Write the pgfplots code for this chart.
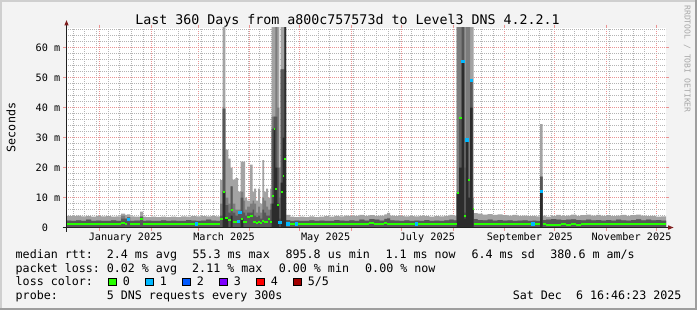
\documentclass[border=0pt]{standalone}
\usepackage{fontspec}
\setmainfont{DejaVu Sans Mono}
\setmonofont{DejaVu Sans Mono}
\usepackage{pgfplots}
\usepackage{pgfplotstable}
\pgfplotsset{compat=1.18}

\definecolor{bgcol}{HTML}{F3F3F3}
\definecolor{shadeA}{HTML}{CFCFCF}
\definecolor{shadeB}{HTML}{9E9E9E}
\definecolor{mingrid}{HTML}{B4B4B4}
\definecolor{majgrid}{HTML}{EA9494}
\definecolor{axiscol}{HTML}{1F1F1F}
\definecolor{arrowcol}{HTML}{801F1F}
\definecolor{smokeA}{HTML}{A3A3A3}
\definecolor{smokeB}{HTML}{7C7C7C}
\definecolor{smokeC}{HTML}{575757}
\definecolor{smokeD}{HTML}{2C2C2C}
\definecolor{loss0}{HTML}{26FF00}
\definecolor{loss1}{HTML}{00B8FF}
\definecolor{loss2}{HTML}{0059FF}
\definecolor{loss3}{HTML}{7E00FF}
\definecolor{loss4}{HTML}{FF0000}
\definecolor{loss5}{HTML}{A10000}
\definecolor{wmcol}{HTML}{A8A8A8}

\newcommand\legfont{\fontsize{11.67bp}{13bp}\selectfont}
\newcommand\axfont{\fontsize{10.2bp}{12bp}\selectfont}
\newcommand\titfont{\fontsize{13.3bp}{15bp}\selectfont}
\newcommand\wmfont{\fontsize{8.1bp}{9bp}\selectfont}

% x = days since Dec 11 2024 16:46 (360-day window), values in ms
% a = max smoke, b = upper smoke, c = inner smoke, e = core smoke, m = median
\pgfplotstableread{
x a b c e m
0 3.9 2.3 2.3 0 1.2
3 3.8 2.2 2.2 0 1.2
6 4.0 2.4 2.4 0 1.3
9 3.7 2.2 2.2 0 1.2
12 3.8 2.6 2.6 0 1.2
15 3.6 2.2 2.2 0 1.3
18 3.9 2.3 2.3 0 1.2
21 3.7 2.2 2.2 0 1.2
24 3.8 2.2 2.2 0 1.3
27 3.6 2.4 2.4 0 1.2
30 3.7 2.2 2.2 0 1.2
33 4.6 4.0 3.0 0 1.5
35.4 4.2 3.0 3.0 0 1.3
36.6 4.4 3.4 3.4 0 2.7
38.4 3.7 2.2 2.2 0 1.2
41 3.6 2.3 2.3 0 1.2
44.4 5.3 3.6 3.6 0 2.7
46.2 3.6 2.2 2.2 0 1.2
48 3.5 2.3 2.3 0 1.2
51 3.6 2.2 2.2 0 1.3
54 3.5 2.2 2.2 0 1.2
57 3.6 2.4 2.4 0 1.2
60 3.5 2.2 2.2 0 1.2
63 3.6 2.3 2.3 0 1.3
66 3.5 2.2 2.2 0 1.2
69 3.7 2.2 2.2 0 1.2
72 3.6 2.5 2.5 0 1.2
75 3.8 2.3 2.3 0 1.3
78 3.7 2.2 2.2 0 1.2
81 3.8 2.3 2.3 0 1.2
84 3.7 2.6 2.6 0 1.2
87 3.8 2.3 2.3 0 1.3
90 3.7 2.2 2.2 0 1.2
92.4 15.8 8 4 0 3.0
94.0 70 40 39.5 12 12
95.6 26 10 7.5 3 3.2
97.4 23 8 5 0 2.5
98.8 20 13.7 13.7 4 5.8
100.0 16 8 5 0 2.0
101.6 16.5 6 4 0 1.8
103.2 12 6 5.1 0 1.9
104.0 12 6 5.1 0 5.1
104.8 22 12 10 3 3.0
106.4 22 9 5 0 2.0
107.4 10 6 4 0 1.8
108.6 9 7 5 0 3.5
110.4 21 8 5 0 4.0
112.0 12 9 6 0 2.0
112.8 13 8 4 0 1.8
114.0 9 5 3.5 0 1.6
115.2 13 7 4 0 2.0
116.4 8 5 3 0 1.5
117.8 22.5 10 6 0 2.2
118.8 12 9 5 0 2.0
120.0 13 7 4 0 1.7
121.2 10 6 4 0 3.0
122.4 13 8 6 0 1.8
123.4 70 37 33 8 10.5
124.6 70 37 37 33 33
125.6 70 70 37 20 13
126.8 70 40 20 8 7.5
128.0 20 10 3 0 1.8
128.8 70 52.7 52.7 15 12
130.0 70 52.7 52.7 30 17.3
131.0 70 70 52.7 70 23
132.0 4.2 2.5 2.5 0 1.2
134.4 3.6 2.2 2.2 0 1.2
137 3.5 2.3 2.3 0 1.2
140 3.6 2.2 2.2 0 1.3
143 3.5 2.2 2.2 0 1.2
146 3.7 2.4 2.4 0 1.2
149 3.5 2.2 2.2 0 1.2
152 3.6 2.3 2.3 0 1.3
155 3.8 2.2 2.2 0 1.2
158 3.6 2.2 2.2 0 1.2
161 3.9 2.5 2.5 0 1.3
164 3.7 2.3 2.3 0 1.2
167 4.0 2.2 2.2 0 1.2
170 3.8 2.4 2.4 0 1.2
173 3.9 2.2 2.2 0 1.3
176 4.2 2.6 2.6 0 1.2
179 3.9 2.3 2.3 0 1.2
182 4.1 2.8 2.8 0 1.4
185 3.9 2.6 2.6 0 1.2
188 4.0 2.3 2.3 0 1.2
191 4.4 3.0 2.8 0 1.6
192.6 4.9 3.2 3.0 0 1.2
194.4 4.0 2.4 2.4 0 1.2
197 3.8 2.3 2.3 0 1.3
200 3.9 2.2 2.2 0 1.2
203 3.7 2.4 2.4 0 1.2
206 3.8 2.2 2.2 0 1.2
209 3.7 2.3 2.3 0 1.2
212 3.9 2.2 2.2 0 1.3
215 3.8 2.5 2.5 0 1.2
218 3.6 2.2 2.2 0 1.2
221 3.8 2.3 2.3 0 1.2
224 3.7 2.2 2.2 0 1.3
227 3.9 2.4 2.4 0 1.2
230 4.2 2.6 2.6 0 1.2
232.5 4.0 2.4 2.4 0 1.2
234.4 70 70 11.4 11.4 11.4
235.8 70 70 36.4 20 36.4
237.4 70 70 70 55.3 55.3
239.0 70 20 5 3 3.7
239.8 70 70 29.2 29.2 29.2
241.4 70 70 15.8 10 15.8
242.4 70 49 49 40 48.9
244.0 70 10 6 6 6.3
244.5 4.8 2.8 2.8 0 1.2
247 4.6 2.5 2.5 0 1.2
250 4.3 2.4 2.4 0 1.3
253 4.5 2.6 2.6 0 1.2
256 4.2 2.3 2.3 0 1.2
259 4.4 2.5 2.5 0 1.2
262 4.1 2.3 2.3 0 1.3
265 4.0 2.4 2.4 0 1.2
268 4.2 2.2 2.2 0 1.2
271 3.9 2.3 2.3 0 1.2
274 4.0 2.4 2.4 0 1.3
277 3.8 2.2 2.2 0 1.2
280 3.9 2.3 2.3 0 1.2
282 3.7 2.2 2.2 0 1.2
284.4 34.5 17 17 11.9 11.9
286.0 4.0 2.5 2.5 0 1.2
288 3.6 2.6 2.6 0 1.0
291 3.9 2.8 2.8 0 1.0
294 4.2 2.6 2.6 0 1.0
297 3.8 2.5 2.5 0 1.1
300 4.0 2.6 2.6 0 1.0
303 4.3 2.7 2.7 0 1.1
306 3.9 2.5 2.5 0 1.0
309 4.1 2.4 2.4 0 1.2
312 4.3 2.6 2.6 0 1.2
315 4.0 2.4 2.4 0 1.2
318 4.2 2.5 2.5 0 1.2
321 3.9 2.3 2.3 0 1.2
324 4.1 2.5 2.5 0 1.2
327 3.8 2.3 2.3 0 1.2
330 4.0 2.6 2.6 0 1.2
333 4.2 2.4 2.4 0 1.2
336 3.9 2.3 2.3 0 1.2
339 4.1 2.5 2.5 0 1.2
342 4.3 2.7 2.7 0 1.2
345 4.0 2.4 2.4 0 1.2
348 3.8 2.6 2.6 0 1.2
351 3.9 2.4 2.4 0 1.2
354 3.6 2.5 2.5 0 1.2
357 3.7 2.3 2.3 0 1.1
360 3.7 2.3 2.3 0 1.1
}\smoke

% median samples with 1 of 5 pings lost
\pgfplotstableread{
x m
37.5 2.7
78.4 1.2
103.5 1.9
104.4 5.1
128.4 1.8
133.2 1.2
138.4 1.2
210.4 1.2
238.2 55.3
240.6 29.2
243.2 48.9
280.2 1.2
285.2 11.9
}\lossone

\begin{document}
\begin{tikzpicture}
\begin{scope}[x=1bp,y=1bp]
\useasboundingbox (0,0) rectangle (697,310);
\fill[bgcol] (0,0) rectangle (697,310);
\fill[shadeA] (0,308) rectangle (697,310);
\fill[shadeA] (0,0) rectangle (2,310);
\fill[shadeB] (695,0) rectangle (697,310);
\fill[shadeB] (0,0) rectangle (697,2);
\end{scope}

\begin{axis}[
  at={(66bp,82.5bp)}, anchor=south west,
  scale only axis, width=600bp, height=200bp,
  xmin=0, xmax=360, ymin=0, ymax=66.667,
  axis background/.style={fill=white},
  axis line style={draw=none},
  clip=true,
  xtick={20.3,51.3,79.3,110.3,140.3,171.3,201.3,232.3,263.3,293.3,324.3,354.3},
  xticklabels={},
  xmajorgrids=true,
  minor xtick={4.3,11.3,...,354.3},
  xminorgrids=true,
  extra x ticks={35.8,94.8,155.8,216.8,278.3,339.3},
  extra x tick labels={January 2025,March 2025,May 2025,July 2025,September 2025,November 2025},
  extra x tick style={grid=none, major tick length=0pt,
     xticklabel style={anchor=base, inner sep=0pt, yshift=-12.5bp}},
  ytick={0,10,20,30,40,50,60},
  yticklabels={0\hphantom{0m},10 m,20 m,30 m,40 m,50 m,60 m},
  minor ytick={2,4,6,8,12,14,16,18,22,24,26,28,32,34,36,38,42,44,46,48,52,54,56,58,62,64,66},
  ymajorgrids=true, yminorgrids=true,
  major grid style={majgrid, dash pattern=on 1bp off 1bp, line width=0.8bp},
  minor grid style={mingrid, dash pattern=on 1bp off 1bp, line width=0.8bp},
  tick align=outside, major tick length=3bp, minor tick length=0pt,
  tick style={majgrid, line width=0.8bp, solid},
  ticklabel style={font=\axfont, text=black},
  yticklabel style={anchor=east, inner sep=0pt, xshift=-2.5bp},
]
\addplot[draw=none, fill=smokeA, const plot mark left] table[x=x,y=a]{\smoke} \closedcycle;
\addplot[draw=none, fill=smokeB, const plot mark left] table[x=x,y=b]{\smoke} \closedcycle;
\addplot[draw=none, fill=smokeC, const plot mark left] table[x=x,y=c]{\smoke} \closedcycle;
\addplot[draw=none, fill=smokeD, const plot mark left] table[x=x,y=e]{\smoke} \closedcycle;
\addplot[loss0, line width=2bp, jump mark left] table[x=x,y=m]{\smoke};
\addplot[loss1, only marks, mark=square*, mark size=1.1bp, mark options={solid, draw=loss1, fill=loss1, line width=0pt}] table[x=x,y=m]{\lossone};
\end{axis}

\begin{scope}[x=1bp,y=1bp]
% axes with arrows
\draw[axiscol, line width=1bp] (66.5,78.5) -- (66.5,285);
\fill[arrowcol] (64.3,284.5) -- (68.7,284.5) -- (66.5,289.8) -- cycle;
\draw[axiscol, line width=1bp] (62.5,82.5) -- (668.5,82.5);
\fill[arrowcol] (668.2,80.3) -- (668.2,84.7) -- (673.5,82.5) -- cycle;

% title, unit, watermark
\node[anchor=base, inner sep=0pt, font=\titfont] at (347.5,285.5) {Last 360 Days from a800c757573d to Level3 DNS 4.2.2.1};
\node[anchor=base, inner sep=0pt, rotate=90, font=\legfont] at (15.3,182.5) {Seconds};
\node[anchor=base, inner sep=0pt, rotate=-90, font=\wmfont, text=wmcol] at (684.5,251) {RRDTOOL / TOBI OETIKER};

% legend
\begin{scope}[every node/.style={anchor=base west, inner sep=0pt, font=\legfont}]
\node at (15.5,51.7) {median rtt:};
\node at (106.6,51.7) {2.4 ms avg};
\node at (192.3,51.7) {55.3 ms max};
\node at (285.4,51.7) {895.8 us min};
\node at (385.3,51.7) {1.1 ms now};
\node at (471.4,51.7) {6.4 ms sd};
\node at (550.2,51.7) {380.6 m am/s};

\node at (15.5,38) {packet loss:};
\node at (106.6,38) {0.02 \% avg};
\node at (192.0,38) {2.11 \% max};
\node at (278.6,38) {0.00 \% min};
\node at (365.0,38) {0.00 \% now};

\node at (15.5,24.3) {loss color:};
\node at (122.6,24.3) {0};
\node at (159.6,24.3) {1};
\node at (196.6,24.3) {2};
\node at (233.6,24.3) {3};
\node at (270.6,24.3) {4};
\node at (307.6,24.3) {5/5};

\node at (15.5,10.7) {probe:};
\node at (106.6,10.7) {5 DNS requests every 300s};
\node at (512.6,10.7) {Sat Dec~~6 16:46:23 2025};
\end{scope}
\foreach \xx/\cc in {108.5/loss0,145.5/loss1,182.5/loss2,219.5/loss3,256.5/loss4,293.5/loss5}{
  \filldraw[fill=\cc, draw=black, line width=0.8bp] (\xx,24.5) rectangle ++(7.4,7.2);
}
\end{scope}
\end{tikzpicture}
\end{document}
